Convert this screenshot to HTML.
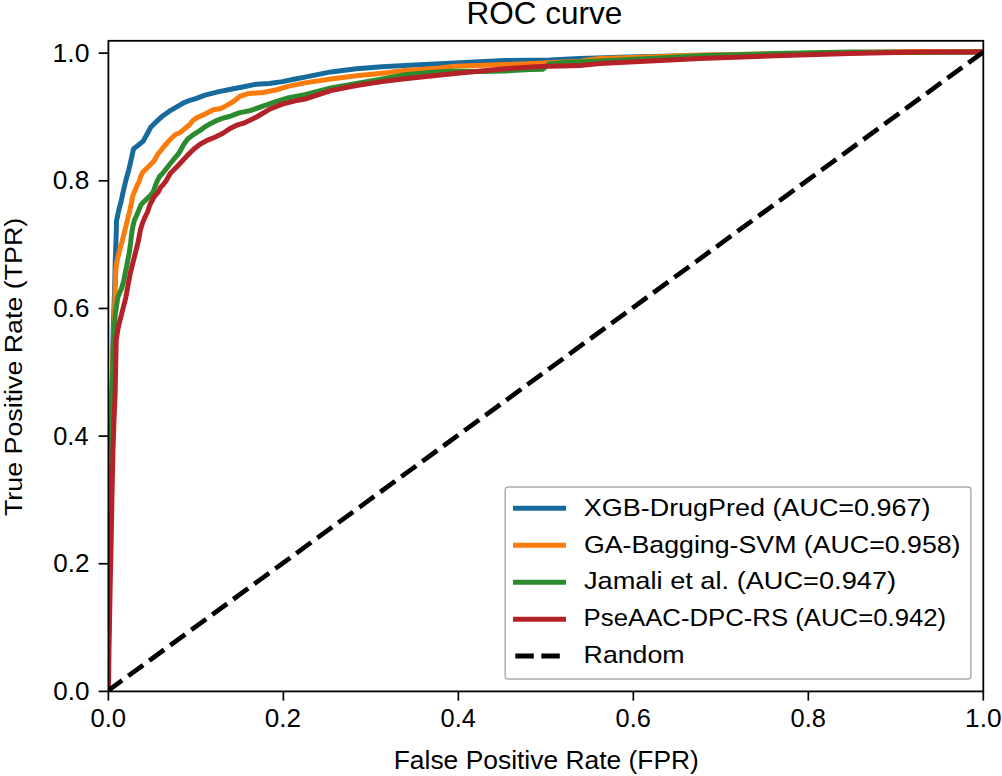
<!DOCTYPE html>
<html><head><meta charset="utf-8"><title>ROC curve</title>
<style>html,body{margin:0;padding:0;background:#fff;overflow:hidden}svg{display:block}
text{font-family:"Liberation Sans",sans-serif}</style></head>
<body><svg width="1002" height="776" viewBox="0 0 1002 776">
<rect width="1002" height="776" fill="#fff"/>
<defs><clipPath id="ax"><rect x="108.4" y="40.8" width="874.90" height="650.60"/></clipPath></defs>
<g clip-path="url(#ax)"><polyline points="108.4,691.4 108.6,640 109.3,580 110.2,510 111.2,440 112.3,380 113.2,330 114.6,290 115.3,259 115.8,246 116.3,231 116.5,221 118.8,210 121.2,201 123,192.5 126,179.7 128.5,171 130.8,161.2 133.5,148.9 138.5,145 143.2,141.1 147,134.2 150.7,127.3 157.2,120.9 163,115.7 169.4,111.2 177.2,106.7 183.6,102.9 190,100.3 196.5,98.3 205,95.1 217.9,91.9 230.8,89.3 243.7,86.7 256.5,84.2 269.4,83.5 282.3,81.6 295.2,79 305,77.1 330.8,71.9 356.5,68.7 382.3,66.8 405,65.4 454.9,63 504.8,60.5 549.9,60 580,58.5 620,57.2 650,56.5 700,55.5 775,54.2 850,52.8 920,51.8 983,51.8" fill="none" stroke="#166b9c" stroke-width="5.0" stroke-linejoin="round" stroke-linecap="butt"/><polyline points="108.4,691.4 108.7,620 109.5,540 110.8,460 112,400 113,350 114.5,315 115,297 115.4,280 115.7,272 116.8,262 119.3,251.5 121.9,242.2 124.5,231.9 127.1,221.6 129.6,211.3 131.9,201 132.4,197.1 133.9,193 136.5,186.8 139.1,181.6 140.6,176.5 142.7,172.3 148.9,166.2 154,161 157.8,154.2 164,146.5 169.4,140.3 175.5,134.5 180,132.7 184.6,128.8 189.3,125 193.1,120.3 197.8,117.2 203.2,114.9 209.4,111.8 214,109.5 220.2,108.7 224.9,106.4 230.3,103.3 234.1,101 239.8,96.4 247.5,93.8 263,92.5 275.9,90 288.8,86.1 305,82.9 330.8,79 356.5,75.8 382.3,73.2 405,70.5 434.9,68.5 454.9,66.2 504.8,64.6 539.9,63.3 579.8,61.2 600,58.5 650,57 700,55 775,53.9 850,52.4 920,51.4 983,51.8" fill="none" stroke="#fb7c0c" stroke-width="5.0" stroke-linejoin="round" stroke-linecap="butt"/><polyline points="108.4,691.4 108.7,620 109.5,540 110.8,460 112,400 113,360 113.6,340 114.1,330 115.2,315 117.9,297 121.7,288 123.7,281 125.2,273.2 127.3,262.9 129.3,252.5 130.6,243 131.5,235 132.7,227.1 134.4,220.2 137.2,214 138.4,211.1 141.2,204.4 144.3,201.3 147.4,198.4 150.8,195.1 153.3,191.7 156.5,182.6 159.5,176.5 162.5,173.5 168.6,165.8 174.8,158 177.5,155 180,151.3 183.9,144.3 187.7,138.9 193.9,134.3 200.1,130.4 205.5,126.5 210.9,123.4 217.1,120.3 223.3,118 229.5,116.5 235.7,114.1 240,112.6 250.1,110.6 263,106.1 275.9,101.6 288.8,97.7 305,94.6 330.8,88 356.5,83.5 382.3,79 405,74.7 434.9,72 454.9,71.2 480,71.6 504.8,70.9 530,69.6 543,69.2 549,64 565,62.6 610,60.6 650,58.5 700,55.8 775,53.6 850,51.9 920,52.4 983,52" fill="none" stroke="#2b8b2e" stroke-width="5.0" stroke-linejoin="round" stroke-linecap="butt"/><polyline points="108.4,691.4 108.6,680 108.9,650 109.5,622 110.3,580 111.1,545 111.9,500 113,450 114,420 115.1,395 115.6,370 115.9,356 116.2,340 117.3,333 118.8,325 121.1,316 125.7,298 128.8,281 130.3,273.2 132.9,262.9 135.5,252.5 138.1,242.2 140.5,229.5 142.3,223.7 144.6,217.9 147.5,212 150,204.5 154,197 158.2,192.2 160.8,187 162.5,185.5 166,181 170.2,173.5 177.9,165.8 182.3,161 187.7,155.1 193.9,149 200.1,144.3 207.1,140.4 214.8,137.3 222.5,133.5 229.5,128.8 235.7,125.7 240,124.2 243.7,123.2 256.5,117 269.4,109.3 282.3,104.1 295.2,100.9 305,99 330.8,90.6 356.5,85.5 382.3,81.6 405,78.8 454.9,73.5 504.8,68.8 539.9,66.5 579.8,65.5 600,63.5 650,61 700,58.6 775,55.8 850,53.4 920,52 983,51.9" fill="none" stroke="#b42228" stroke-width="5.0" stroke-linejoin="round" stroke-linecap="butt"/><line x1="108.4" y1="690.4" x2="983.3" y2="52.0" stroke="#000" stroke-width="4.7" stroke-dasharray="18.4 7.6" stroke-dashoffset="1.4" stroke-linecap="butt"/></g>
<g><rect x="108.4" y="40.8" width="874.90" height="650.60" fill="none" stroke="#000" stroke-width="1.8" stroke-linejoin="miter"/><line x1="108.40" y1="691.4" x2="108.40" y2="700.6" stroke="#000" stroke-width="1.7"/><line x1="108.4" y1="691.40" x2="98.60000000000001" y2="691.40" stroke="#000" stroke-width="1.7"/><line x1="283.38" y1="691.4" x2="283.38" y2="700.6" stroke="#000" stroke-width="1.7"/><line x1="108.4" y1="563.75" x2="98.60000000000001" y2="563.75" stroke="#000" stroke-width="1.7"/><line x1="458.36" y1="691.4" x2="458.36" y2="700.6" stroke="#000" stroke-width="1.7"/><line x1="108.4" y1="436.10" x2="98.60000000000001" y2="436.10" stroke="#000" stroke-width="1.7"/><line x1="633.34" y1="691.4" x2="633.34" y2="700.6" stroke="#000" stroke-width="1.7"/><line x1="108.4" y1="308.45" x2="98.60000000000001" y2="308.45" stroke="#000" stroke-width="1.7"/><line x1="808.32" y1="691.4" x2="808.32" y2="700.6" stroke="#000" stroke-width="1.7"/><line x1="108.4" y1="180.80" x2="98.60000000000001" y2="180.80" stroke="#000" stroke-width="1.7"/><line x1="983.30" y1="691.4" x2="983.30" y2="700.6" stroke="#000" stroke-width="1.7"/><line x1="108.4" y1="53.15" x2="98.60000000000001" y2="53.15" stroke="#000" stroke-width="1.7"/></g>
<g font-family="Liberation Sans, sans-serif" fill="#000"><text x="108.31" y="727.4" font-size="25.4" text-anchor="middle" textLength="35.68" lengthAdjust="spacingAndGlyphs">0.0</text><text x="89.44" y="699.80" font-size="25.4" text-anchor="end" textLength="36.22" lengthAdjust="spacingAndGlyphs">0.0</text><text x="282.84" y="727.4" font-size="25.4" text-anchor="middle" textLength="36.22" lengthAdjust="spacingAndGlyphs">0.2</text><text x="89.44" y="572.15" font-size="25.4" text-anchor="end" textLength="36.22" lengthAdjust="spacingAndGlyphs">0.2</text><text x="458.27" y="727.4" font-size="25.4" text-anchor="middle" textLength="35.32" lengthAdjust="spacingAndGlyphs">0.4</text><text x="88.54" y="444.50" font-size="25.4" text-anchor="end" textLength="35.32" lengthAdjust="spacingAndGlyphs">0.4</text><text x="633.25" y="727.4" font-size="25.4" text-anchor="middle" textLength="35.32" lengthAdjust="spacingAndGlyphs">0.6</text><text x="89.44" y="316.85" font-size="25.4" text-anchor="end" textLength="36.22" lengthAdjust="spacingAndGlyphs">0.6</text><text x="808.23" y="727.4" font-size="25.4" text-anchor="middle" textLength="35.32" lengthAdjust="spacingAndGlyphs">0.8</text><text x="89.44" y="189.20" font-size="25.4" text-anchor="end" textLength="36.58" lengthAdjust="spacingAndGlyphs">0.8</text><text x="983.30" y="727.4" font-size="25.4" text-anchor="middle" textLength="36.58" lengthAdjust="spacingAndGlyphs">1.0</text><text x="89.44" y="61.55" font-size="25.4" text-anchor="end" textLength="36.94" lengthAdjust="spacingAndGlyphs">1.0</text><text x="544.4" y="23.7" font-size="31.4" text-anchor="middle" textLength="155.72" lengthAdjust="spacingAndGlyphs">ROC curve</text><text x="546.3300000000003" y="768.9" font-size="25.2" text-anchor="middle" textLength="305.18" lengthAdjust="spacingAndGlyphs">False Positive Rate (FPR)</text><g transform="translate(22.2,366.90) rotate(-90)"><text x="0" y="0" font-size="24.6" text-anchor="middle" textLength="298.28" lengthAdjust="spacingAndGlyphs">True Positive Rate (TPR)</text></g></g>
<g font-family="Liberation Sans, sans-serif" fill="#000"><rect x="505.2" y="486.95" width="465.65" height="192.1" rx="3" ry="3" fill="#fff" fill-opacity="0.8" stroke="#aaaaaa" stroke-width="1.4"/><line x1="515.5" y1="508.3" x2="563.5" y2="508.3" stroke="#166b9c" stroke-width="5.0" stroke-linecap="square"/><text x="583.82" y="515.5" font-size="24.4" text-anchor="start" textLength="346.70" lengthAdjust="spacingAndGlyphs">XGB-DrugPred (AUC=0.967)</text><line x1="515.5" y1="545.25" x2="563.5" y2="545.25" stroke="#fb7c0c" stroke-width="5.0" stroke-linecap="square"/><text x="584.00" y="552.5" font-size="24.4" text-anchor="start" textLength="376.52" lengthAdjust="spacingAndGlyphs">GA-Bagging-SVM (AUC=0.958)</text><line x1="515.5" y1="582.2" x2="563.5" y2="582.2" stroke="#2b8b2e" stroke-width="5.0" stroke-linecap="square"/><text x="584.00" y="589.4" font-size="24.4" text-anchor="start" textLength="312.08" lengthAdjust="spacingAndGlyphs">Jamali et al. (AUC=0.947)</text><line x1="515.5" y1="619.15" x2="563.5" y2="619.15" stroke="#b42228" stroke-width="5.0" stroke-linecap="square"/><text x="583.64" y="626.4" font-size="24.4" text-anchor="start" textLength="362.54" lengthAdjust="spacingAndGlyphs">PseAAC-DPC-RS (AUC=0.942)</text><line x1="515.3" y1="656.1" x2="560.3" y2="656.1" stroke="#000" stroke-width="5.0" stroke-dasharray="18.5 7.5"/><text x="583.64" y="663.3" font-size="24.4" text-anchor="start" textLength="100.94" lengthAdjust="spacingAndGlyphs">Random</text></g>
</svg></body></html>
